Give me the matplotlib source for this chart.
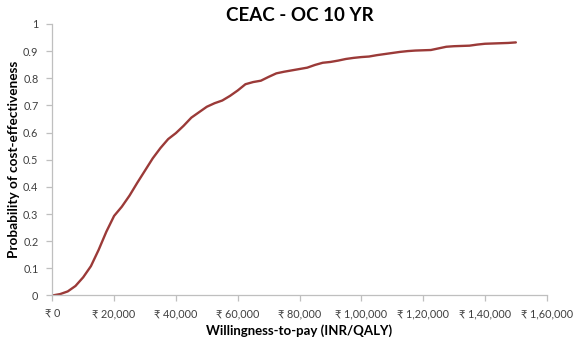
import matplotlib
matplotlib.use("Agg")
import matplotlib.pyplot as plt

plt.rcParams['font.family'] = ['Lato', 'Noto Sans', 'DejaVu Sans']

# Willingness-to-pay thresholds (INR/QALY) and probability of cost-effectiveness
wtp = [0, 2500, 5000, 7500, 10000, 12500, 15000, 17500, 20000, 22500,
       25000, 27500, 30000, 32500, 35000, 37500, 40000, 42500, 45000, 47500,
       50000, 52500, 55000, 57500, 60000, 62500, 65000, 67500, 70000, 72500,
       75000, 77500, 80000, 82500, 85000, 87500, 90000, 92500, 95000, 97500,
       100000, 102500, 105000, 107500, 110000, 112500, 115000, 117500, 120000,
       122500, 125000, 127500, 130000, 132500, 135000, 137500, 140000, 142500,
       145000, 147500, 150000]
prob_ce = [0.0, 0.005, 0.015, 0.035, 0.067, 0.108, 0.168, 0.235, 0.293, 0.327,
           0.368, 0.415, 0.46, 0.505, 0.543, 0.576, 0.598, 0.625, 0.655, 0.675,
           0.695, 0.708, 0.718, 0.735, 0.755, 0.778, 0.786, 0.791, 0.805, 0.818,
           0.824, 0.829, 0.834, 0.839, 0.849, 0.857, 0.860, 0.865, 0.871, 0.875,
           0.878, 0.880, 0.885, 0.889, 0.893, 0.897, 0.900, 0.902, 0.903,
           0.904, 0.910, 0.916, 0.918, 0.919, 0.920, 0.924, 0.927, 0.928,
           0.929, 0.930, 0.932]

x_ticks = [0, 20000, 40000, 60000, 80000, 100000, 120000, 140000, 160000]
x_tick_labels = ['₹ 0', '₹ 20,000', '₹ 40,000', '₹ 60,000', '₹ 80,000',
                 '₹ 1,00,000', '₹ 1,20,000', '₹ 1,40,000', '₹ 1,60,000']
y_ticks = [0, 0.1, 0.2, 0.3, 0.4, 0.5, 0.6, 0.7, 0.8, 0.9, 1.0]
y_tick_labels = ['0', '0.1', '0.2', '0.3', '0.4', '0.5', '0.6', '0.7', '0.8', '0.9', '1']

fig = plt.figure(figsize=(5.77, 3.42), dpi=100)
ax = fig.add_axes([0.0906, 0.136, 0.857, 0.794])

ax.plot(wtp, prob_ce, color='#9b3a38', linewidth=1.7, solid_capstyle='round',
        solid_joinstyle='round')

ax.set_xlim(0, 160000)
ax.set_ylim(0, 1)
ax.set_xticks(x_ticks)
ax.set_xticklabels(x_tick_labels)
ax.set_yticks(y_ticks)
ax.set_yticklabels(y_tick_labels)

for side in ('top', 'right'):
    ax.spines[side].set_visible(False)
for side in ('left', 'bottom'):
    ax.spines[side].set_color('#bfbfbf')
    ax.spines[side].set_linewidth(0.9)

ax.tick_params(axis='both', colors='#bfbfbf', labelcolor='#404040',
               labelsize=7.8, length=4, width=0.9)
ax.tick_params(axis='x', pad=5)
ax.tick_params(axis='y', pad=6)

ax.set_title('CEAC - OC 10 YR', fontsize=13.5, fontweight='bold', pad=-1)
ax.set_xlabel('Willingness-to-pay (INR/QALY)', fontsize=9.5, fontweight='bold',
              labelpad=4)
ax.set_ylabel('Probability of cost-effectiveness', fontsize=9.8,
              fontweight='bold', labelpad=2)

fig.savefig('out.png', dpi=100)
